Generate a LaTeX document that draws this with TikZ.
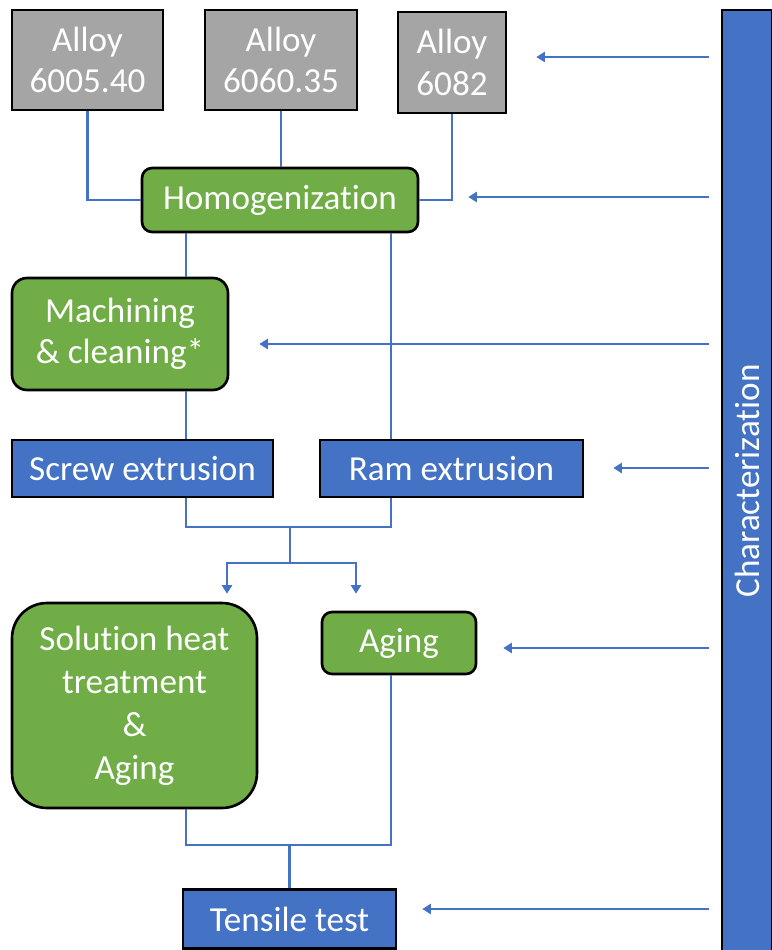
\documentclass[tikz,border=0pt]{standalone}
\usepackage{fontspec}
\setmainfont[Ligatures=NoCommon]{Carlito}
\usetikzlibrary{positioning, arrows.meta, calc}
\definecolor{alloyGray}{HTML}{A5A5A5}
\definecolor{stepGreen}{HTML}{70AD47}
\definecolor{stepBlue}{HTML}{4472C4}

\begin{document}
\begin{tikzpicture}[x=0.02cm, y=-0.02cm,
  box/.style={draw=black, line width=1.5pt, text=white, align=center, inner sep=0pt, font=\fontsize{20}{23.5}\selectfont},
  alloy/.style={box, fill=alloyGray},
  proc/.style={box, fill=stepGreen, rounded corners=0.2cm},
  ext/.style={box, fill=stepBlue},
  link/.style={draw=stepBlue, line width=1.3pt},
  arr/.style={link, -{Triangle[width=0.2cm, length=0.17cm]}}]
\useasboundingbox (0,0) rectangle (771,950);
% raw alloys
\node[alloy, minimum width=3.02cm, minimum height=2cm] (a1) at (87.5,60) {Alloy\\6005.40};
\node[alloy, minimum width=3.04cm, minimum height=2cm] (a2) at (281,60) {Alloy\\6060.35};
\node[alloy, minimum width=2.16cm, minimum height=2.02cm] (a3) at (452,62.5) {Alloy\\6082};
% process steps
\node[proc, minimum width=5.52cm, minimum height=1.28cm] (homog) at (280,200) {Homogenization};
\node[proc, rounded corners=0.3cm, minimum width=4.32cm, minimum height=2.24cm] (mach) at (120,334) {Machining\\\& cleaning*};
\node[ext, minimum width=5.22cm, minimum height=1.14cm] (screw) at (142.5,468.5) {Screw extrusion};
\node[ext, minimum width=5.26cm, minimum height=1.14cm] (ram) at (451.5,468.5) {Ram extrusion};
\node[proc, rounded corners=0.7cm, minimum width=4.9cm, minimum height=4.1cm, font=\fontsize{20}{24.5}\selectfont] (sht) at (134.5,705.5) {Solution heat\\treatment\\\&\\Aging};
\node[proc, minimum width=3.08cm, minimum height=1.24cm] (aging) at (399,643) {Aging};
\node[ext, minimum width=4.26cm, minimum height=1.18cm] (tensile) at (289.5,919) {Tensile test};
\node[ext, rotate=90, minimum width=18.84cm, minimum height=1cm] (bar) at (747,481) {Characterization};
% helper coordinates
\coordinate (lx) at (186,0); \coordinate (rx) at (391,0);
\coordinate (sx) at (227,0); \coordinate (ax) at (356,0);
\coordinate (j1) at (290,527); \coordinate (j2) at (290,563); \coordinate (j3) at (289.5,845);
\coordinate (y1) at (0,57); \coordinate (y2) at (0,197); \coordinate (y3) at (0,344);
\coordinate (y4) at (0,468); \coordinate (y5) at (0,648); \coordinate (y6) at (0,909);
% flow
\draw[link] (a1.south) |- (homog.west);
\draw[link] (a2.south) -- (a2.south |- homog.north);
\draw[link] (a3.south) |- (homog.east);
\draw[link] (homog.south -| lx) -- (mach.north -| lx);
\draw[link] (homog.south -| rx) -- (ram.north -| rx);
\draw[link] (mach.south -| lx) -- (screw.north -| lx);
\draw[link] (screw.south -| lx) |- (j1) -| (ram.south -| rx);
\draw[link] (j1) -- (j2);
\draw[arr, shorten >=0.16cm] (j2) -| (sht.north -| sx);
\draw[arr, shorten >=0.34cm] (j2) -| (aging.north -| ax);
\draw[link] (sht.south -| lx) |- (j3) -| (aging.south -| rx);
\draw[link] (j3) -- (tensile.north);
% characterization feedback
\draw[arr, shorten <=0.24cm, shorten >=0.58cm] (bar.north |- y1) -- (y1 -| a3.east);
\draw[arr, shorten <=0.24cm, shorten >=0.98cm] (bar.north |- y2) -- (y2 -| homog.east);
\draw[arr, shorten <=0.24cm, shorten >=0.6cm] (bar.north |- y3) -- (y3 -| mach.east);
\draw[arr, shorten <=0.24cm, shorten >=0.58cm] (bar.north |- y4) -- (y4 -| ram.east);
\draw[arr, shorten <=0.24cm, shorten >=0.52cm] (bar.north |- y5) -- (y5 -| aging.east);
\draw[arr, shorten <=0.24cm, shorten >=0.5cm] (bar.north |- y6) -- (y6 -| tensile.east);
\end{tikzpicture}
\end{document}
